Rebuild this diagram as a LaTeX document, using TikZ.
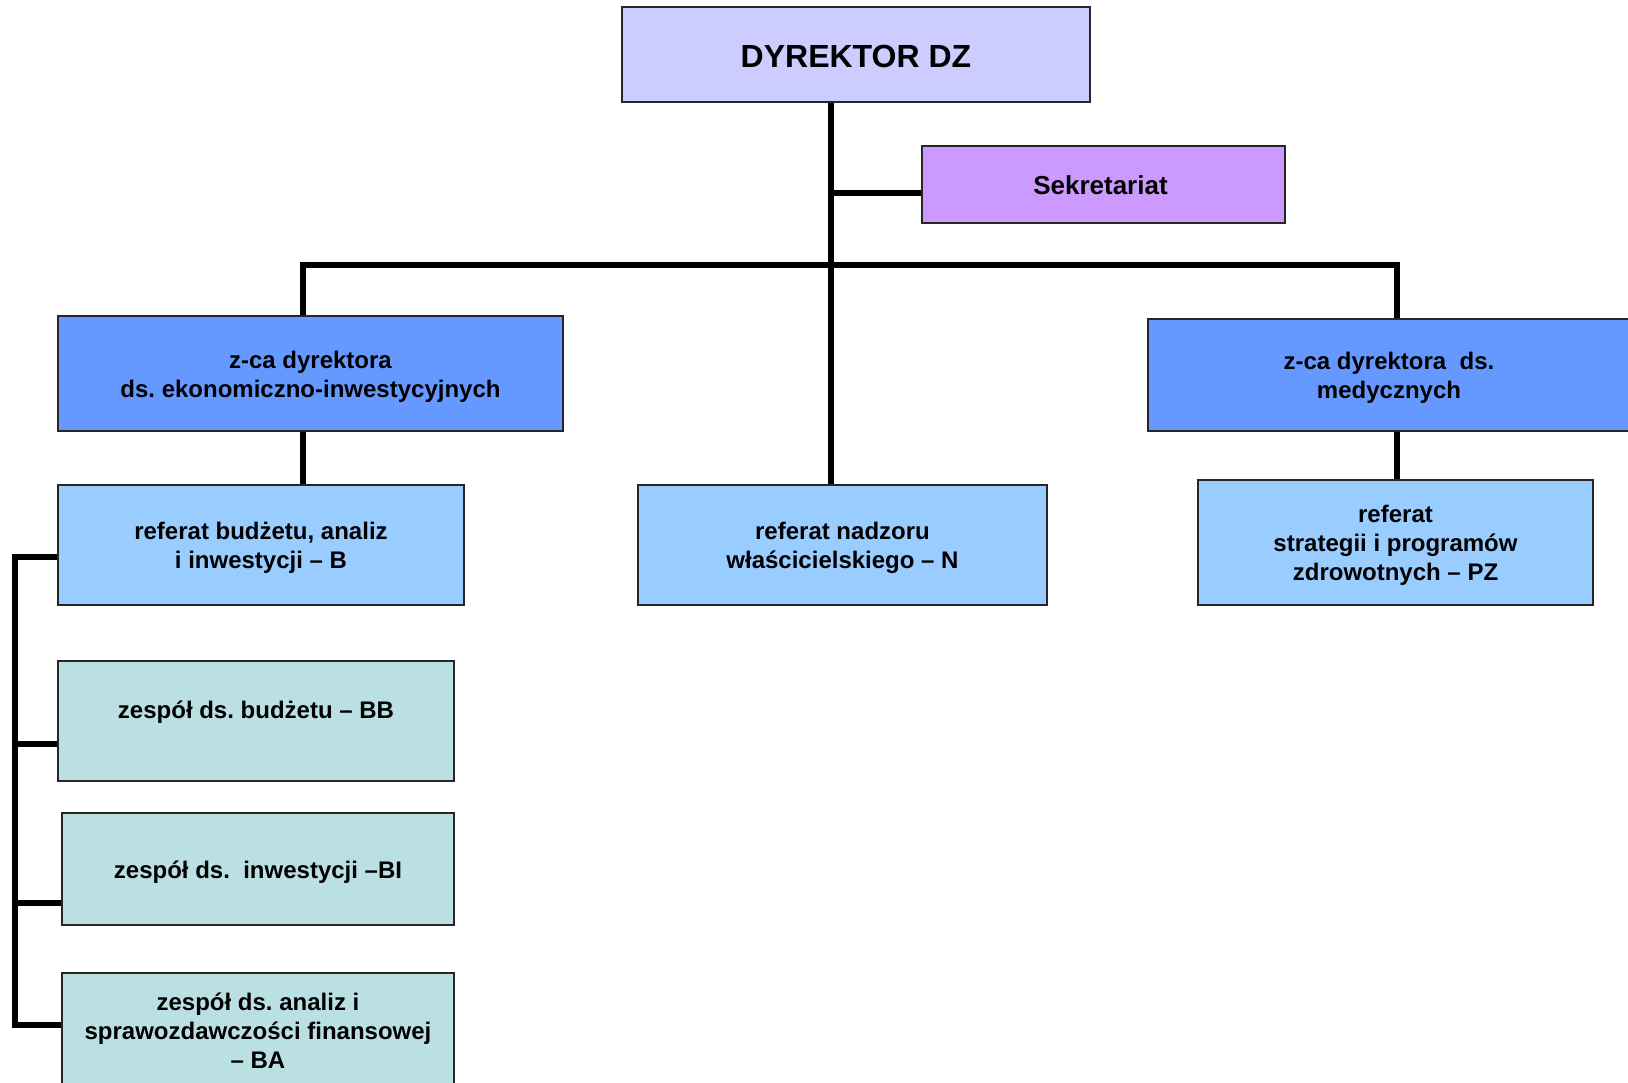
\documentclass[tikz,border=0pt]{standalone}
\usepackage{fontspec}
\setmainfont{Liberation Sans}
\frenchspacing
\newcommand\tS{\rule{0pt}{1.04em}}
\newcommand\bS{\rule[-0.25em]{0pt}{0pt}}
\definecolor{cDyr}{HTML}{CCCCFF}
\definecolor{cSek}{HTML}{CC99FF}
\definecolor{cZca}{HTML}{6699FF}
\definecolor{cRef}{HTML}{99CCFF}
\definecolor{cZes}{HTML}{BBE0E3}
\begin{document}
\begin{tikzpicture}[x=1pt,y=-1pt,
  box/.style={draw=black!85,line width=1.8pt,rectangle,align=center,font=\bfseries\fontsize{24}{29}\selectfont,inner sep=0pt,
    execute at begin node={\tS},
    execute at end node={\bS}},
  conn/.style={line width=5.5pt,black,line join=miter}]
\useasboundingbox (0,0) rectangle (1628,1082);
\clip (0,0) rectangle (1628,1082);
\fill[white] (0,0) rectangle (1628,1082);
% nodes
\node[box,fill=cDyr,minimum width=468pt,minimum height=95pt,font=\bfseries\fontsize{32}{36}\selectfont] (dyr) at (856,54.5) {DYREKTOR DZ};
\node[box,fill=cSek,minimum width=363pt,minimum height=77pt,font=\bfseries\fontsize{26}{30}\selectfont] (sek) at (1103.5,184.5) {Sekretariat\hspace*{6pt}};
\node[box,fill=cZca,minimum width=505pt,minimum height=115pt] (zek) at (310.5,373.5) {\tS z-ca dyrektora\\ds. ekonomiczno-inwestycyjnych\bS};
\node[box,fill=cZca,minimum width=482pt,minimum height=112pt] (zmed) at (1389,375) {\tS z-ca dyrektora\ \ ds.\\medycznych\bS};
\node[box,fill=cRef,minimum width=406pt,minimum height=120pt] (refB) at (261,545) {\tS referat budżetu, analiz\\i inwestycji – B\bS};
\node[box,fill=cRef,minimum width=409pt,minimum height=120pt] (refN) at (842.5,545) {\tS referat nadzoru\\właścicielskiego – N\bS};
\node[box,fill=cRef,minimum width=395pt,minimum height=125pt] (refPZ) at (1395.5,542.5) {\tS referat\\strategii i programów\\zdrowotnych – PZ\bS};
\node[box,fill=cZes,minimum width=396pt,minimum height=120pt,text height=17pt,text depth=22pt] (zBB) at (256,721) {zespół ds. budżetu – BB};
\node[box,fill=cZes,minimum width=392pt,minimum height=112pt] (zBI) at (258,869) {zespół ds.\ \ inwestycji –BI};
\node[box,fill=cZes,minimum width=392pt,minimum height=114pt] (zBA) at (258,1030) {\tS zespół ds. analiz i\\sprawozdawczości finansowej\\– BA\bS};
% helper coordinates
\coordinate (spine) at (831,0);
\coordinate (barL) at (303,265);
\coordinate (barR) at (1397,265);
\coordinate (secj) at (831,193);
% connectors
\draw[conn] (dyr.south -| spine) -- (refN.north -| spine);
\draw[conn] (secj) -- (sek.west |- secj);
\draw[conn] (zek.north -| barL) -- (barL) -- (barR) -- (zmed.north -| barR);
\draw[conn] (zek.south -| barL) -- (refB.north -| barL);
\draw[conn] (zmed.south -| barR) -- (refPZ.north -| barR);
\coordinate (bB) at (15,557);
\coordinate (bBB) at (15,744);
\coordinate (bBI) at (15,903);
\coordinate (bBA) at (15,1025);
\draw[conn] (refB.west |- bB) -- (bB) -- (bBA) -- (zBA.west |- bBA);
\draw[conn] (bBB) -- (zBB.west |- bBB);
\draw[conn] (bBI) -- (zBI.west |- bBI);
\end{tikzpicture}
\end{document}
